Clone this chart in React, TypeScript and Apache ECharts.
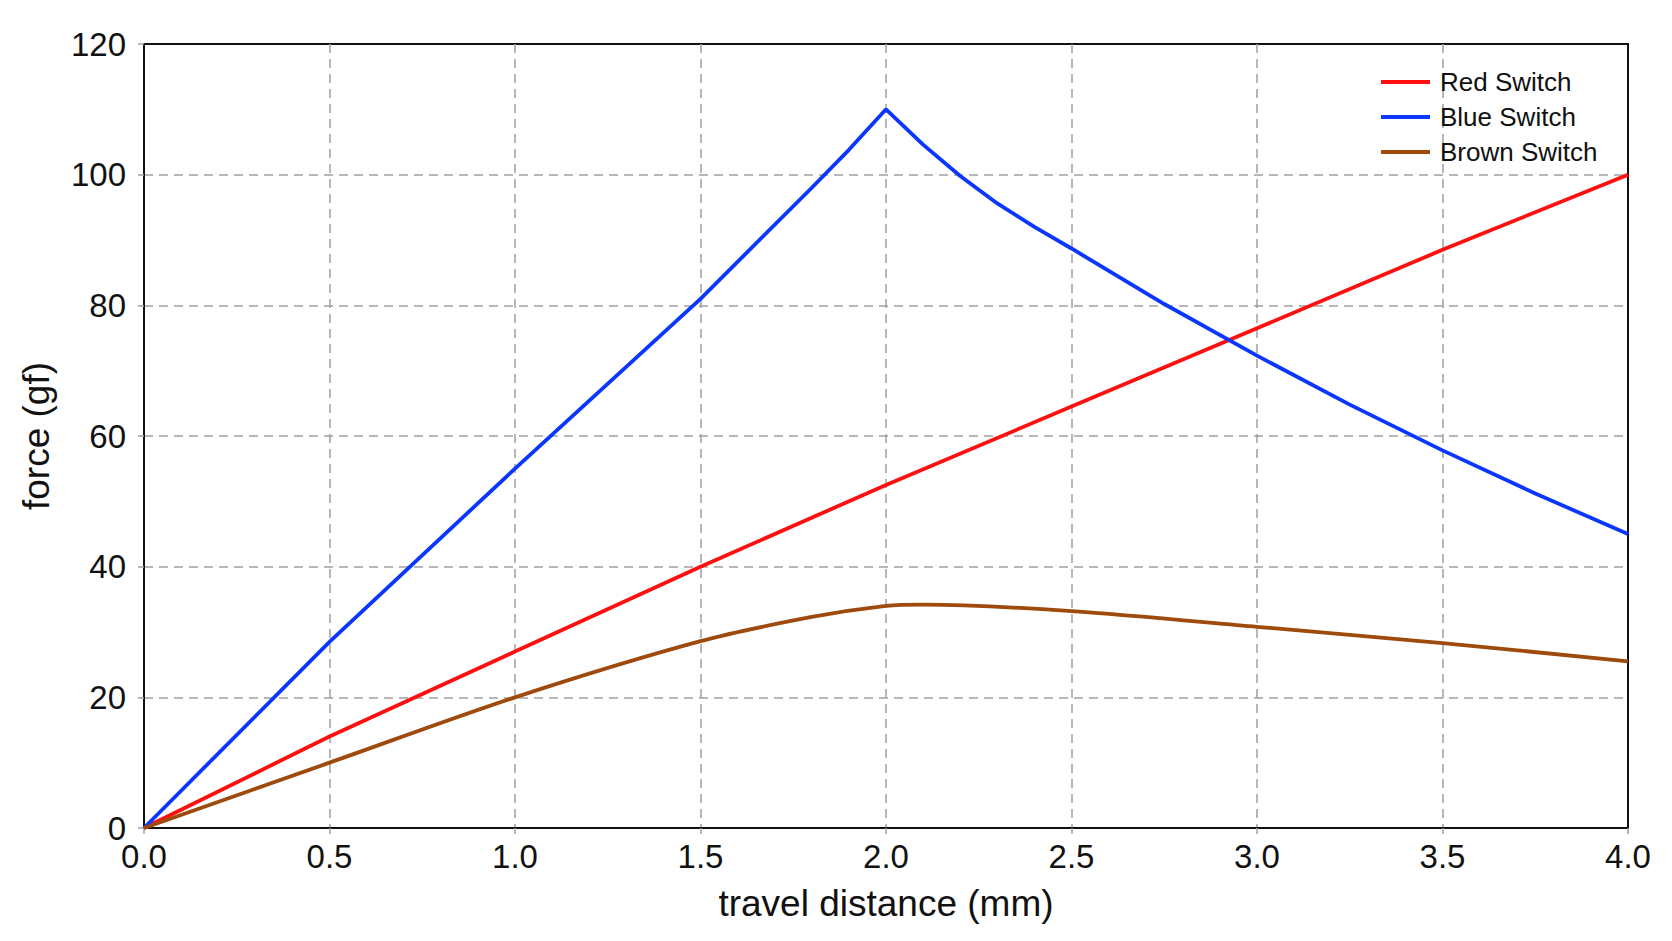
import React, { useEffect, useRef } from 'react';
import * as echarts from 'echarts';

// travel distance (mm) sampled for each switch, force in gf
const redX = [0, 0.5, 1.0, 1.5, 2.0, 2.5, 3.0, 3.5, 4.0];
const redY = [0, 14, 27, 40, 52.5, 64.5, 76.5, 88.5, 100];

const blueX = [0, 0.5, 1.0, 1.5, 1.8, 1.9, 2.0, 2.1, 2.2, 2.3, 2.4, 2.5, 2.75, 3.0, 3.25, 3.5, 3.75, 4.0];
const blueY = [0, 28.5, 55, 81, 98, 103.8, 110, 104.6, 99.8, 95.6, 92, 88.7, 80.2, 72.3, 64.8, 57.8, 51.2, 45];

const brownX = [0, 0.5, 1.0, 1.5, 1.8, 2.0, 2.1, 2.5, 3.0, 3.5, 4.0];
const brownY = [0, 10, 20, 28.6, 32.3, 34, 34.2, 33.2, 30.8, 28.3, 25.5];

const seriesNames = ['Red Switch', 'Blue Switch', 'Brown Switch'];
const seriesColors = ['#ff0f0f', '#0a36ff', '#9e4a0c'];

const pairs = (xs: number[], ys: number[]) => xs.map((x, i) => [x, ys[i]]);

const FONT = 'Liberation Sans, Arial, Helvetica, sans-serif';

const App: React.FC = () => {
  const chartRef = useRef<HTMLDivElement | null>(null);

  useEffect(() => {
    let chart: echarts.ECharts | null = null;
    if (chartRef.current) {
      chart = echarts.init(chartRef.current, null, { renderer: 'svg' });

      const gridLine = {
        show: true,
        showMinLine: false,
        showMaxLine: false,
        lineStyle: { color: '#a0a0a0', width: 1.5, type: [9, 6] as number[] },
      };
      const tick = { show: true, length: 6, lineStyle: { color: '#a0a0a0', width: 1.5 } };

      const option = {
        animation: false,
        backgroundColor: '#ffffff',
        textStyle: { fontFamily: FONT },
        grid: {
          left: 144,
          right: 44,
          top: 44,
          bottom: 113,
          show: true,
          borderColor: '#111',
          borderWidth: 2,
          backgroundColor: 'transparent',
        },
        legend: {
          data: seriesNames,
          orient: 'vertical',
          left: 1376,
          top: 64,
          icon: 'rect',
          itemWidth: 49,
          itemHeight: 4,
          itemGap: 9,
          textStyle: {
            fontFamily: FONT,
            fontSize: 26,
            lineHeight: 26,
            color: '#111',
            padding: [0, 0, 0, 5],
          },
        },
        xAxis: {
          type: 'value',
          min: 0,
          max: 4,
          interval: 0.5,
          name: 'travel distance (mm)',
          nameLocation: 'middle',
          nameGap: 57,
          nameTextStyle: { fontFamily: FONT, fontSize: 37, color: '#111' },
          axisLine: { show: true, onZero: false, lineStyle: { color: '#111', width: 2 } },
          axisTick: tick,
          axisLabel: {
            fontFamily: FONT,
            fontSize: 33,
            color: '#111',
            margin: 12,
            formatter: (v: number) => v.toFixed(1),
          },
          splitLine: gridLine,
        },
        yAxis: {
          type: 'value',
          min: 0,
          max: 120,
          interval: 20,
          name: 'force (gf)',
          nameLocation: 'middle',
          nameGap: 89,
          nameRotate: 90,
          nameTextStyle: { fontFamily: FONT, fontSize: 37, color: '#111' },
          axisLine: { show: true, lineStyle: { color: '#111', width: 2 } },
          axisTick: tick,
          axisLabel: { fontFamily: FONT, fontSize: 33, color: '#111', margin: 18 },
          splitLine: gridLine,
        },
        series: [
          {
            name: seriesNames[0],
            type: 'line',
            data: pairs(redX, redY),
            showSymbol: false,
            smooth: false,
            lineStyle: { width: 3.8, color: seriesColors[0] },
            itemStyle: { color: seriesColors[0] },
          },
          {
            name: seriesNames[1],
            type: 'line',
            data: pairs(blueX, blueY),
            showSymbol: false,
            smooth: false,
            lineStyle: { width: 3.8, color: seriesColors[1] },
            itemStyle: { color: seriesColors[1] },
          },
          {
            name: seriesNames[2],
            type: 'line',
            data: pairs(brownX, brownY),
            showSymbol: false,
            smooth: 0.3,
            lineStyle: { width: 3.8, color: seriesColors[2] },
            itemStyle: { color: seriesColors[2] },
          },
        ],
      };

      chart.setOption(option);
    }

    return () => {
      chart?.dispose();
    };
  }, []);

  return (
    <div
      ref={chartRef}
      style={{ position: 'fixed', left: 0, top: 0, width: 1672, height: 941, background: '#fff' }}
    ></div>
  );
};

export default App;
